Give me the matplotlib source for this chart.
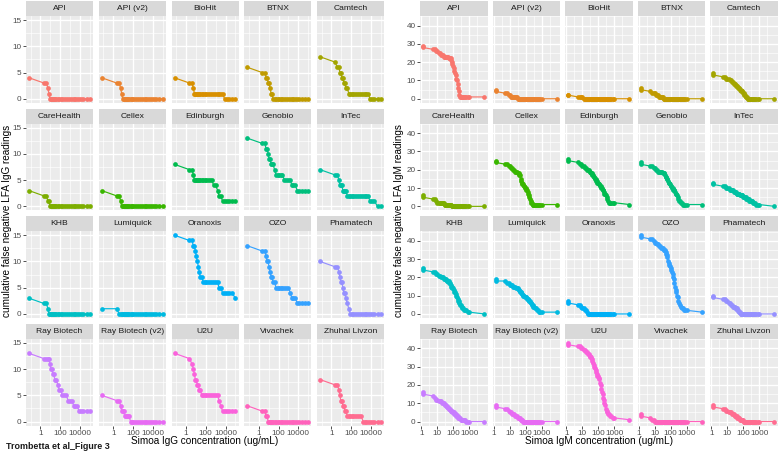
import numpy as np
import matplotlib
matplotlib.use("Agg")
import matplotlib.pyplot as plt
from matplotlib.ticker import FixedLocator, FixedFormatter, NullFormatter

plt.rcParams['font.family'] = ['Liberation Sans', 'DejaVu Sans']

# ---------------- data ----------------
lfa_names = ["API", "API (v2)", "BioHit", "BTNX", "Camtech",
             "CareHealth", "Cellex", "Edinburgh", "Genobio", "InTec",
             "KHB", "Lumiquick", "Oranoxis", "OZO", "Phamatech",
             "Ray Biotech", "Ray Biotech (v2)", "U2U", "Vivachek", "Zhuhai Livzon"]

lfa_colors = ["#F8766D", "#EA8331", "#D89000", "#C09B00", "#A3A500",
              "#7CAE00", "#39B600", "#00BB4E", "#00BF7D", "#00C1A3",
              "#00BFC4", "#00BAE0", "#00B0F6", "#35A2FF", "#9590FF",
              "#C77CFF", "#E76BF3", "#FA62DB", "#FF62BC", "#FF6C90"]

# Simoa IgG concentration of each sample (ug/mL)
igg_conc = [0.07, 2.2, 4, 5.6, 7.1, 8.9, 11, 14, 18, 22, 28, 40, 56, 79, 110, 160, 250,
            400, 630, 1000, 1600, 2200, 3200, 5000, 7900, 12600, 22000, 45000, 100000]

igg_api = [4, 3, 3, 2, 1] + [0] * 24
igg_api_v2 = [4, 3, 3, 2, 1] + [0] * 24
igg_biohit = [4, 3, 3, 2] + [1] * 20 + [0] * 5
igg_btnx = [6, 5, 5, 4, 4, 3, 3, 2, 1, 1] + [0] * 19
igg_camtech = [8, 7, 6, 6, 5, 5, 4, 4, 3, 3, 2, 2] + [1] * 12 + [0] * 5
igg_carehealth = [3, 2, 2, 1, 1] + [0] * 24
igg_cellex = [3, 2, 2, 1] + [0] * 25
igg_edinburgh = [8, 7, 7, 6] + [5] * 14 + [4, 4, 3, 2, 2] + [1] * 6
igg_genobio = [13, 12, 12, 11, 11, 10, 9, 9, 8, 8, 8, 7, 6, 6, 6, 6, 6, 5, 5, 5,
               5, 4, 4, 4, 3, 3, 3, 3, 3]
igg_intec = [7, 6, 6, 5, 4, 4, 4, 3, 3, 3, 3] + [2] * 13 + [1, 1, 1, 0, 0]
igg_khb = [3, 2, 2, 1] + [0] * 25
igg_lumiquick = [1, 1] + [0] * 27
igg_oranoxis = [15, 14, 14, 13, 13, 12, 11, 10, 9, 8, 7, 7] + [6] * 9 + [5, 5] + [4] * 5 + [3]
igg_ozo = [13, 12, 12, 11, 10, 10, 9, 8, 7, 7, 6, 6] + [5] * 8 + [4, 3, 3, 3] + [2] * 5
igg_phamatech = [10, 9, 9, 8, 7, 6, 6, 5, 4, 4, 3, 2, 1] + [0] * 16
igg_raybiotech = [13, 12, 12, 12, 12, 11, 10, 10, 9, 9, 8, 8, 7, 6, 6, 5, 5, 5, 4, 4,
                  4, 3, 3, 3, 2, 2, 2, 2, 2]
igg_raybiotech_v2 = [5, 4, 4, 3, 2, 2, 2, 1, 1, 1, 1, 1] + [0] * 17
igg_u2u = [13, 12, 11, 10, 9, 8, 8, 7, 7, 6, 6] + [5] * 10 + [4, 3] + [2] * 6
igg_vivachek = [3, 2, 2, 1, 1] + [0] * 24
igg_zhuhai = [8, 7, 7, 6, 5, 4, 4, 3, 3, 2, 2] + [1] * 9 + [0] * 9

# Simoa IgM concentration of each sample (ug/mL)
igm_conc = [1.26, 1.26, 5.2, 6.6, 8.3, 10, 12, 14, 16.6, 19, 22, 25, 29, 32, 35.5, 39,
            43, 47, 51, 56, 62, 68, 74, 81, 89, 98, 107, 117, 129, 141, 155, 170, 186,
            204, 224, 245, 269, 295, 331, 372, 417, 479, 562, 661, 794, 1000, 9120]

igm_api = [29, 28, 27, 27, 26, 26, 25, 25, 24, 24, 24, 23, 23, 23, 23, 23, 23, 23, 22, 22,
           22, 22, 21, 20, 19, 18, 17, 15, 14, 13, 11, 10, 8, 6, 4, 2] + [1] * 11
igm_api_v2 = [5, 4, 3, 3, 2, 2, 1, 1, 1, 1, 1, 1, 1] + [0] * 34
igm_biohit = [2, 2, 1, 1, 1, 1] + [0] * 41
igm_btnx = [6, 5, 4, 3, 3, 3, 2, 2, 2, 1, 1, 1, 1, 1] + [0] * 33
igm_camtech = [14, 13, 12, 12, 11, 11, 11, 10, 10, 9, 9, 8, 8, 8, 7, 7, 7, 6, 6, 6,
               5, 5, 4, 4, 4, 3, 3, 2, 2, 1, 1, 1] + [0] * 15
igm_carehealth = [6, 5, 4, 4, 3, 2, 2, 2, 2, 2, 2, 2, 1, 1, 1, 1, 1, 1, 1, 1, 1, 1, 1] + [0] * 24
igm_cellex = [25, 24, 23, 23, 22, 22, 21, 21, 20, 20, 19, 19, 19, 18, 18, 17, 17, 15, 14, 13,
              12, 12, 11, 11, 10, 10, 9, 9, 8, 7, 6, 5, 4, 3, 2, 2] + [1] * 11
igm_edinburgh = [26, 25, 24, 23, 23, 22, 22, 21, 21, 20, 20, 20, 19, 19, 18, 18, 17, 17, 16, 16,
                 15, 15, 14, 14, 13, 13, 12, 12, 11, 11, 10, 10, 9, 9, 8, 7, 7, 6, 5, 4,
                 3, 2, 2, 2, 2, 2, 1]
igm_genobio = [24, 23, 22, 22, 21, 21, 20, 20, 19, 19, 19, 19, 19, 18, 18, 18, 17, 16, 16, 15,
               15, 14, 13, 13, 12, 11, 11, 10, 10, 9, 9, 9, 8, 7, 7, 6, 5, 4, 3, 3,
               2, 2, 1, 1, 1, 1, 1]
igm_intec = [13, 12, 11, 11, 10, 10, 10, 9, 9, 9, 9, 8, 8, 8, 8, 7, 7, 7, 7, 7,
             6, 6, 6, 6, 6, 5, 5, 5, 5, 5, 4, 4, 4, 4, 4, 3, 3, 3, 3, 3,
             2, 2, 2, 1, 1, 1, 0]
igm_khb = [25, 24, 23, 23, 22, 22, 21, 21, 20, 20, 20, 19, 19, 19, 19, 18, 18, 18, 18, 17,
           17, 16, 15, 15, 14, 14, 13, 12, 12, 11, 10, 9, 8, 7, 7, 6, 5, 5, 4, 3,
           3, 2, 2, 2, 1, 1, 0]
igm_lumiquick = [19, 18, 18, 17, 17, 16, 16, 16, 15, 15, 15, 14, 14, 14, 13, 13, 12, 12, 12, 11,
                 11, 10, 10, 10, 9, 9, 9, 8, 8, 8, 7, 7, 7, 6, 6, 5, 5, 4, 4, 3,
                 3, 2, 2, 1, 1, 1, 1]
igm_oranoxis = [7, 6, 5, 5, 4, 3, 3, 2, 2, 1] + [0] * 37
igm_ozo = [43, 42, 41, 41, 40, 39, 39, 38, 38, 37, 37, 36, 36, 36, 35, 35, 35, 34, 33, 32,
           31, 29, 28, 27, 26, 25, 24, 23, 22, 20, 19, 17, 15, 13, 12, 10, 9, 7, 6, 5,
           4, 3, 3, 2, 2, 2, 1]
igm_phamatech = [10, 9, 8, 8, 7, 7, 6, 6, 5, 5, 4, 4, 4, 3, 3, 3, 2, 2, 1, 1, 1] + [0] * 26
igm_raybiotech = [16, 15, 14, 13, 12, 12, 11, 11, 11, 10, 10, 10, 9, 9, 9, 8, 8, 8, 7, 7,
                  7, 6, 6, 6, 5, 5, 5, 4, 4, 4, 3, 3, 3, 2, 2, 2, 2, 1, 1, 1,
                  1, 1, 1, 0, 0, 0, 0]
igm_raybiotech_v2 = [9, 8, 7, 7, 6, 5, 5, 4, 4, 4, 3, 3, 3, 2, 2, 2, 2, 1, 1, 1, 1] + [0] * 26
igm_u2u = [43, 42, 41, 41, 40, 40, 39, 39, 38, 38, 37, 37, 36, 35, 35, 34, 33, 32, 31, 30,
           29, 28, 27, 26, 25, 25, 24, 23, 21, 20, 18, 16, 15, 13, 12, 10, 9, 7, 6, 5,
           4, 4, 3, 3, 2, 2, 1]
igm_vivachek = [4, 3, 2, 1, 1] + [0] * 42
igm_zhuhai = [9, 8, 7, 7, 6, 6, 5, 5, 5, 4, 4, 4, 3, 3, 3, 3, 2, 2, 2, 2,
              1, 1, 1, 1, 1, 1] + [0] * 21

igg_series = [igg_api, igg_api_v2, igg_biohit, igg_btnx, igg_camtech,
              igg_carehealth, igg_cellex, igg_edinburgh, igg_genobio, igg_intec,
              igg_khb, igg_lumiquick, igg_oranoxis, igg_ozo, igg_phamatech,
              igg_raybiotech, igg_raybiotech_v2, igg_u2u, igg_vivachek, igg_zhuhai]
igm_series = [igm_api, igm_api_v2, igm_biohit, igm_btnx, igm_camtech,
              igm_carehealth, igm_cellex, igm_edinburgh, igm_genobio, igm_intec,
              igm_khb, igm_lumiquick, igm_oranoxis, igm_ozo, igm_phamatech,
              igm_raybiotech, igm_raybiotech_v2, igm_u2u, igm_vivachek, igm_zhuhai]

igg_yticks = [0, 5, 10, 15]
igm_yticks = [0, 10, 20, 30, 40]
igg_xticks = [1, 100, 10000]
igg_xticklabels = ["1", "100", "10000"]
igm_xticks = [1, 10, 100, 1000]
igm_xticklabels = ["1", "10", "100", "1000"]

# ---------------- layout ----------------
W, H = 778, 451
fig = plt.figure(figsize=(W / 100, H / 100), dpi=100)


def add_ax(x, y, w, h):
    return fig.add_axes([x / W, 1 - (y + h) / H, w / W, h / H])


row_tops = [16.1, 123.7, 231.3, 338.9]
panel_h = 86.6
strip_h = 15.0

TICK_COLOR = "#333333"
LABEL_COLOR = "#4D4D4D"


def log_expand(vals, frac=0.05):
    lo, hi = np.log10(min(vals)), np.log10(max(vals))
    d = (hi - lo) * frac
    return 10 ** (lo - d), 10 ** (hi + d)


def lin_expand(lo, hi, frac=0.05):
    d = (hi - lo) * frac
    return lo - d, hi + d


def draw_grid(col_lefts, col_w, xs, series, yticks, xticks, xticklabels):
    xlim = log_expand(xs)
    ymax = max(max(s) for s in series)
    ylim = lin_expand(0, ymax)
    lx = np.log10(xticks)
    step = lx[1] - lx[0]
    xminor = 10 ** np.arange(lx[0] - step / 2, lx[-1] + step, step)
    ystep = yticks[1] - yticks[0]
    yminor = np.arange(yticks[0] - ystep / 2, yticks[-1] + ystep, ystep)
    order = np.argsort(xs, kind="stable")
    xs_sorted = np.asarray(xs)[order]
    for i, name in enumerate(lfa_names):
        r, c = divmod(i, 5)
        ax = add_ax(col_lefts[c], row_tops[r], col_w, panel_h)
        ax.set_facecolor("#EBEBEB")
        ax.set_xscale("log")
        ax.set_xlim(xlim)
        ax.set_ylim(ylim)
        ax.xaxis.set_major_locator(FixedLocator(xticks))
        ax.xaxis.set_major_formatter(FixedFormatter(xticklabels))
        ax.xaxis.set_minor_locator(FixedLocator(xminor))
        ax.xaxis.set_minor_formatter(NullFormatter())
        ax.yaxis.set_major_locator(FixedLocator(yticks))
        ax.yaxis.set_minor_locator(FixedLocator(yminor))
        ax.grid(which="major", color="white", lw=0.95)
        ax.grid(which="minor", color="white", lw=0.45)
        ax.set_axisbelow(True)
        for sp in ax.spines.values():
            sp.set_visible(False)
        ax.tick_params(which="minor", length=0)
        ax.tick_params(which="major", length=2.0, width=0.6, color=TICK_COLOR,
                       labelsize=5.9, labelcolor=LABEL_COLOR, pad=1.2)
        ax.tick_params(axis="y", left=(c == 0), labelleft=(c == 0))
        ax.tick_params(axis="x", bottom=(r == 3), labelbottom=(r == 3))
        ys = np.asarray(series[i])[order]
        ax.plot(xs_sorted, ys, "-o", color=lfa_colors[i], lw=0.85, ms=3.4, mew=0,
                clip_on=False, zorder=3)
        sax = add_ax(col_lefts[c], row_tops[r] - strip_h, col_w, strip_h)
        sax.set_facecolor("#D9D9D9")
        sax.set_xticks([])
        sax.set_yticks([])
        for sp in sax.spines.values():
            sp.set_visible(False)
        sax.text(0.5, 0.5, name, ha="center", va="center", fontsize=6.1,
                 color="#1A1A1A", transform=sax.transAxes)


left_cols = [26, 98.75, 171.5, 244.25, 317]
right_cols = [420, 492.5, 565, 637.5, 710]

draw_grid(left_cols, 67, igg_conc, igg_series, igg_yticks, igg_xticks, igg_xticklabels)
draw_grid(right_cols, 67.5, igm_conc, igm_series, igm_yticks, igm_xticks, igm_xticklabels)

ymid = (row_tops[0] + row_tops[3] + panel_h) / 2


def ftext(x, y, s, **kw):
    fig.text(x / W, 1 - y / H, s, **kw)


TITLE_SIZE = 7.2
ftext(7, ymid, "cumulative false negative LFA IgG readings", rotation=90,
      ha="center", va="center", fontsize=TITLE_SIZE, color="black")
ftext(398.5, ymid, "cumulative false negative LFA IgM readings", rotation=90,
      ha="center", va="center", fontsize=TITLE_SIZE, color="black")
ftext((26 + 384) / 2, 441.5, "Simoa IgG concentration (ug/mL)",
      ha="center", va="center", fontsize=TITLE_SIZE, color="black")
ftext((420 + 777.5) / 2, 441.5, "Simoa IgM concentration (ug/mL)",
      ha="center", va="center", fontsize=TITLE_SIZE, color="black")
ftext(6, 446.5, "Trombetta et al_Figure 3", ha="left", va="center",
      fontsize=6.4, fontweight="bold", color="#1A1A1A")

fig.savefig("out.png", dpi=100)
